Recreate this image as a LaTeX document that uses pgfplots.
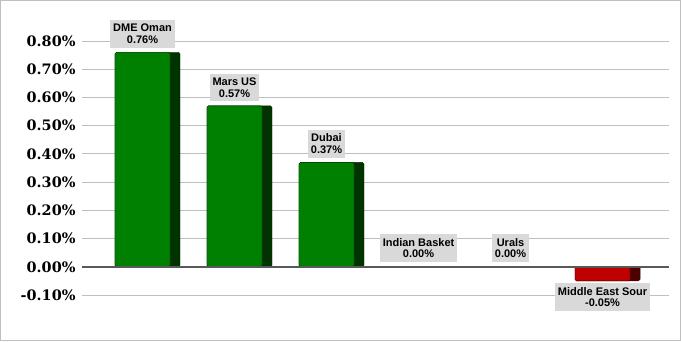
\documentclass[border=0pt]{standalone}
\usepackage{pgfplots}
\usepackage{pgfplotstable}
\pgfplotsset{compat=1.18}
\usepackage{fontspec}
\setmainfont{Liberation Sans}
\newfontfamily\tickfont{DejaVu Serif}
\definecolor{barG}{HTML}{008000}
\definecolor{barGs}{HTML}{003300}
\definecolor{barR}{HTML}{C00000}
\definecolor{barRs}{HTML}{4C0000}
\definecolor{gridc}{HTML}{BFBFBF}
\definecolor{zeroc}{HTML}{595959}
\definecolor{lblbg}{HTML}{D9D9D9}
\pgfkeys{/pgf/number format/assume math mode=true}
\tikzset{label node/.style={fill=lblbg, inner xsep=2.8pt, inner ysep=4pt, align=center,
     font=\bfseries\fontsize{11}{11.7}\selectfont, text=black}}

\pgfplotstableread{
x y
0 0.76
1 0.57
2 0.37
}\greendata
\pgfplotstableread{
x y
5 -0.05
}\reddata
\pgfplotstableread[col sep=comma]{
x,y,label
-0.0543,0.76,{DME Oman\\0.76\%}
0.9457,0.57,{Mars US\\0.57\%}
1.9457,0.37,{Dubai\\0.37\%}
2.9457,0.00,{Indian Basket\\0.00\%}
3.9457,0.00,{Urals\\0.00\%}
}\labpos
\pgfplotstableread[col sep=comma]{
x,y,label
4.9457,-0.05,{Middle East Sour\\-0.05\%}
}\labneg

\begin{document}
\begin{tikzpicture}[x=1pt,y=1pt]
\useasboundingbox (0,0) rectangle (681,341);
\draw[gridc, line width=1pt] (0.5,0.5) rectangle (680.5,340.5);
\begin{axis}[
  at={(82pt,46pt)}, anchor=south west,
  scale only axis, width=587pt, height=254pt,
  xmin=-0.712, xmax=5.668, ymin=-0.1, ymax=0.8,
  clip=false,
  ybar,
  axis line style={draw=none},
  xtick=\empty,
  ytick={-0.1,0,0.1,0.2,0.3,0.4,0.5,0.6,0.7,0.8},
  major tick length=0pt,
  ymajorgrids, grid style={gridc, line width=1pt},
  yticklabel style={font=\tickfont\bfseries\fontsize{14.4}{16}\selectfont, xshift=-3pt},
  yticklabel={\pgfmathprintnumber[fixed,fixed zerofill,precision=2]{\tick}\%},
]
\addplot[bar width=0.707, bar shift=0, fill=barGs, draw=barGs, line width=0.4pt, rounded corners=1.5pt]
  table[x=x,y=y]{\greendata};
\addplot[bar width=0.598, bar shift=-0.0543, fill=barG, draw=barGs, line width=0.4pt, rounded corners=1.5pt]
  table[x=x,y=y]{\greendata};
\addplot[bar width=0.707, bar shift=0, fill=barRs, draw=barRs, line width=0.4pt, rounded corners=1.5pt]
  table[x=x,y=y]{\reddata};
\addplot[bar width=0.598, bar shift=-0.0543, fill=barR, draw=barRs, line width=0.4pt, rounded corners=1.5pt]
  table[x=x,y=y]{\reddata};
\draw[zeroc, line width=1.5pt] (axis cs:-0.712,0) -- (axis cs:5.668,0);
\addplot[sharp plot, draw=none, fill=none, mark=none,
  point meta=explicit symbolic,
  nodes near coords,
  every node near coord/.style={label node, anchor=south, yshift=4.5pt}]
  table[x=x, y=y, meta=label]{\labpos};
\addplot[sharp plot, draw=none, fill=none, mark=none,
  point meta=explicit symbolic,
  nodes near coords,
  every node near coord/.style={label node, anchor=north, yshift=-2pt}]
  table[x=x, y=y, meta=label]{\labneg};
\end{axis}
\end{tikzpicture}
\end{document}
